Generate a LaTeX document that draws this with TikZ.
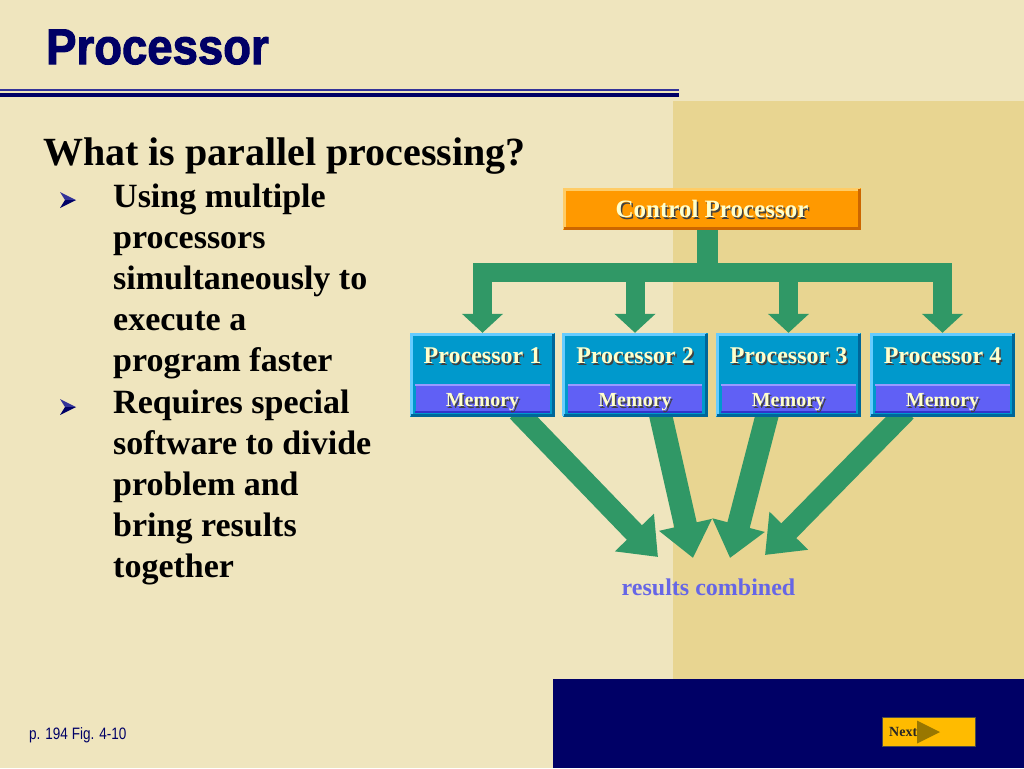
\documentclass[tikz,border=0pt]{standalone}
\usepackage{fontspec}
\setmainfont{Liberation Serif}
\newfontfamily\arialfont{Liberation Sans}
\newfontfamily\heavyfont[FakeBold=2.2]{Liberation Sans Bold}
\usetikzlibrary{arrows.meta,calc}
\definecolor{cream}{RGB}{239,229,190}
\definecolor{tanpanel}{RGB}{232,213,145}
\definecolor{navy}{RGB}{0,0,102}
\definecolor{navylight}{RGB}{51,51,153}
\definecolor{arrowgreen}{RGB}{48,152,102}
\definecolor{procblue}{RGB}{0,153,204}
\definecolor{proclight}{RGB}{102,204,255}
\definecolor{procdark}{RGB}{0,102,153}
\definecolor{memblue}{RGB}{96,96,245}
\definecolor{memlight}{RGB}{153,153,255}
\definecolor{memdark}{RGB}{51,51,204}
\definecolor{ctrlorange}{RGB}{255,153,0}
\definecolor{ctrllight}{RGB}{255,204,102}
\definecolor{ctrldark}{RGB}{204,102,0}
\definecolor{textcream}{RGB}{255,255,204}
\definecolor{resultblue}{RGB}{102,102,230}
\definecolor{nextorange}{RGB}{255,187,0}
\definecolor{nexttri}{RGB}{153,119,0}
\pgfdeclarelayer{back}
\pgfdeclarelayer{mid}
\pgfsetlayers{back,mid,main}
\newcommand\shtext[1]{\leavevmode\rlap{\kern1.5pt\raisebox{-1.5pt}{\color{black!75}#1}}#1}
\newcommand\bevelbox[3]{%
  \draw[#2,line width=3pt] ($(#1.south west)+(1.5,-1.5)$) -- ($(#1.north west)+(1.5,1.5)$) -- ($(#1.north east)+(-1.5,1.5)$);
  \draw[#3,line width=3pt] ($(#1.north east)+(-1.5,1.5)$) -- ($(#1.south east)+(-1.5,-1.5)$) -- ($(#1.south west)+(1.5,-1.5)$);
}
\tikzset{
  procbox/.style={fill=procblue, minimum width=145pt, minimum height=84pt, inner sep=0pt},
  membox/.style={fill=memblue, minimum width=134pt, minimum height=29pt, inner sep=0pt},
  proctext/.style={text=textcream, font=\fontsize{24}{28}\selectfont\bfseries, inner sep=0pt},
  memtext/.style={text=textcream, font=\fontsize{20}{24}\selectfont\bfseries, inner sep=0pt, anchor=base},
  bullettext/.style={anchor=base west, inner sep=0pt, font=\fontsize{34}{40}\selectfont\bfseries},
  gline/.style={draw=arrowgreen, line cap=butt},
  gdown/.style={gline, line width=19pt, -{Triangle[length=19pt,width=40pt]}},
  gconv/.style={gline, -{Triangle[length=34pt,width=52pt]}},
}
\begin{document}
\begin{tikzpicture}[x=1pt,y=-1pt]
\useasboundingbox (0,0) rectangle (1024,768);
\begin{pgfonlayer}{back}
  \fill[cream] (0,0) rectangle (1024,768);
  \fill[tanpanel] (673,101) rectangle (1024,679);
  \fill[navy] (553,679) rectangle (1024,768);
  \fill[navylight] (0,89) rectangle (679,91);
  \fill[navy] (0,93) rectangle (679,97);
\end{pgfonlayer}

% title
\node[anchor=base west, inner sep=0pt, text=navy, xscale=0.91, font=\heavyfont\fontsize{50}{56}\selectfont] (title) at (46,64) {Processor};
\node[anchor=base west, inner sep=0pt, font=\fontsize{40}{46}\selectfont\bfseries] (q) at (43,165) {What is parallel processing?};

% bullets
\foreach \t [count=\i from 0] in {Using multiple, processors, simultaneously to, execute a, program faster, Requires special, software to divide, problem and, bring results, together}{
  \node[bullettext] (l\i) at (113,{207+41.2*\i}) {\t};
}
\foreach \yy in {200,407}{
  \fill[navylight] (60,\yy-8) -- (76,\yy) -- (65,\yy) -- cycle;
  \fill[navy] (65,\yy) -- (76,\yy) -- (60,\yy+8) -- cycle;
}

% control processor
\node[fill=ctrlorange, minimum width=298pt, minimum height=42pt, inner sep=0pt] (ctrl) at (712,209) {};
\bevelbox{ctrl}{ctrllight}{ctrldark}
\node[proctext, font=\fontsize{25}{28}\selectfont\bfseries] (ctrlt) at (712,210) {\shtext{Control Processor}};

% processors
\foreach \i/\cx in {1/482.5, 2/635, 3/788.5, 4/942.5}{
  \node[procbox] (p\i) at (\cx,375) {};
  \bevelbox{p\i}{proclight}{procdark}
  \node[membox] (m\i) at (\cx,398.5) {};
  \draw[memlight, line width=2pt] ($(m\i.north west)+(0,1)$) -- ($(m\i.north east)+(0,1)$);
  \draw[memdark, line width=2pt] ($(m\i.south west)+(0,-1)$) -- ($(m\i.south east)+(0,-1)$);
  \node[proctext] (pt\i) at ($(p\i.north)+(0,24)$) {\shtext{Processor \i}};
  \node[memtext] (mt\i) at ($(m\i.south)+(0,-6.5)$) {\shtext{Memory}};
}

% tree arrows
\coordinate (bus) at (707,272);
\coordinate (b1) at (p1.north |- bus);
\coordinate (b4) at (p4.north |- bus);
\begin{pgfonlayer}{mid}
  \draw[gline, line width=21pt] ($(ctrl.south)+(-5,-3)$) -- (bus);
  \draw[gline, line width=19pt, line cap=rect] (b1) -- (b4);
  \foreach \i in {1,...,4}{
    \draw[gdown] (p\i.north |- bus) -- (p\i.north);
  }
  % converging arrows
  \coordinate (t1) at (658,557);
  \coordinate (t2) at (693,558);
  \coordinate (t3) at (730,558);
  \coordinate (t4) at (765,555);
  \draw[gconv, line width=21pt] ($(p1.south west)!0.74!(p1.south east)+(0,-6)$) -- (t1);
  \draw[gconv, line width=23pt] ($(p2.south west)!0.67!(p2.south east)+(0,-6)$) -- (t2);
  \draw[gconv, line width=23pt] ($(p3.south west)!0.36!(p3.south east)+(0,-6)$) -- (t3);
  \draw[gconv, line width=21pt] ($(p4.south west)!0.25!(p4.south east)+(0,-6)$) -- (t4);
\end{pgfonlayer}

\node[anchor=base, inner sep=0pt, text=resultblue, font=\fontsize{24}{28}\selectfont\bfseries] (res) at (708.5,595) {results combined};

% footer
\node[anchor=base west, inner sep=0pt, text=navy, xscale=0.82, font=\arialfont\fontsize{16.5}{20}\selectfont] (foot) at (29,739) {p. 194 Fig. 4-10};

% next button
\node[draw=black!70, line width=0.8pt, fill=nextorange, minimum width=93pt, minimum height=29pt, inner sep=0pt] (next) at (928.5,731.5) {};
\fill[nexttri] (917,720.5) -- (940,732) -- (917,743.5) -- cycle;
\node[anchor=base west, inner sep=0pt, text=black!85, font=\fontsize{14}{16}\selectfont\bfseries] (nextt) at (889,736) {Next};
\end{tikzpicture}
\end{document}
